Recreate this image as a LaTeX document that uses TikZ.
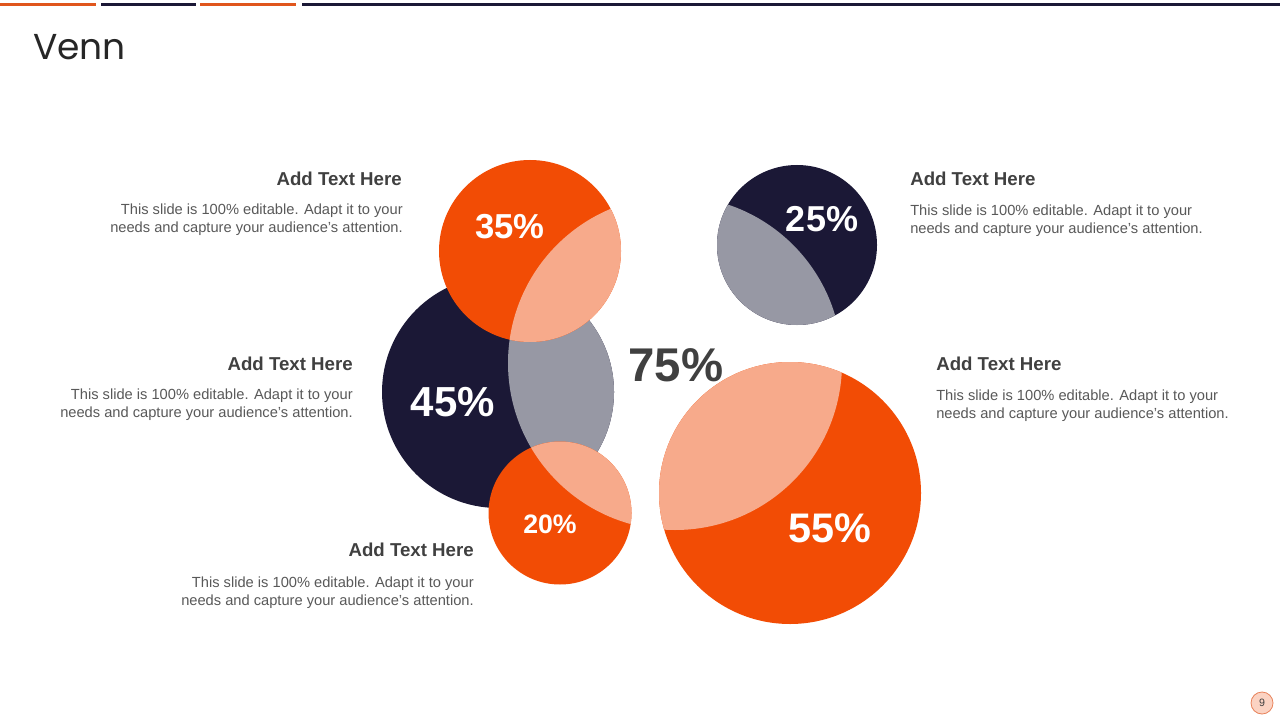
\documentclass[tikz,border=0pt]{standalone}
\usepackage{fontspec}
\setmainfont{Liberation Sans}
\newfontfamily\titlefont{Poppins}
\definecolor{vorange}{HTML}{F24C05}
\definecolor{vsalmon}{HTML}{F7AA8B}
\definecolor{vnavy}{HTML}{1B1836}
\definecolor{vgray}{HTML}{9798A4}
\definecolor{barorange}{HTML}{E0561D}
\definecolor{headgray}{HTML}{404040}
\definecolor{bodygray}{HTML}{595959}
\definecolor{pagefill}{HTML}{FBD3C3}
\definecolor{pageline}{HTML}{E8825A}
\tikzset{
  headtxt/.style={font=\bfseries\fontsize{14}{16}\selectfont, text=headgray, inner sep=0pt},
  bodytxt/.style={font=\fontsize{11}{13.5}\selectfont, text=bodygray, inner sep=0pt},
  pcttxt/.style={font=\bfseries\fontsize{#1}{#1}\selectfont, text=white, inner sep=0pt},
  bar/.style={fill=#1},
}
\newcommand{\bodytext}{This slide is 100\% editable. Adapt it to your\\needs and capture your audience's attention.}
\begin{document}
\begin{tikzpicture}[x=0.75pt,y=-0.75pt]
\useasboundingbox (0,0) rectangle (1280,720);
\fill[white] (0,0) rectangle (1280,720);
% top bars
\fill[bar=barorange] (0,3) rectangle (96,6);
\fill[bar=vnavy] (101,3) rectangle (196,6);
\fill[bar=barorange] (200,3) rectangle (296,6);
\fill[bar=vnavy] (302,3) rectangle (1280,6);
% title
\node[anchor=base west, inner sep=0pt, font=\titlefont\fontsize{27}{30}\selectfont, text=black!85] (title) at (33,60) {Venn};
% centres
\coordinate (cx) at (675,363);
\coordinate (c45) at (498,392);
\coordinate (c35) at (530,251);
\coordinate (c20) at (560,513);
\coordinate (c25) at (797,245);
\coordinate (c55) at (790,493);
% 45% circle
\fill[vnavy] (c45) circle[radius=116];
\begin{scope}\clip (c45) circle[radius=116]; \fill[vgray] (cx) circle[radius=167];\end{scope}
% 35% circle
\fill[vorange] (c35) circle[radius=91];
\begin{scope}\clip (c35) circle[radius=91]; \fill[vsalmon] (cx) circle[radius=167];\end{scope}
% 20% circle
\fill[vorange] (c20) circle[radius=71.5];
\begin{scope}\clip (c20) circle[radius=71.5]; \fill[vsalmon] (cx) circle[radius=167];\end{scope}
% 25% circle
\fill[vnavy] (c25) circle[radius=80];
\begin{scope}\clip (c25) circle[radius=80]; \fill[vgray] (cx) circle[radius=167];\end{scope}
% 55% circle
\fill[vorange] (c55) circle[radius=131];
\begin{scope}\clip (c55) circle[radius=131]; \fill[vsalmon] (cx) circle[radius=167];\end{scope}
% percentages
\node[pcttxt=26] (p35) at (510,227) {35\%};
\node[pcttxt=31.5] (p45) at (453,402) {45\%};
\node[pcttxt=20] (p20) at (550,524) {20\%};
\node[pcttxt=27] (p25) at (822,219) {25\%};
\node[pcttxt=31] (p55) at (830,528) {55\%};
\node[pcttxt=35.5, text=headgray] (p75) at (676,365) {75\%};
% text blocks
\node[headtxt, anchor=east] (h1) at (402,179) {Add Text Here};
\node[bodytxt, anchor=east, align=right] (b1) at (403,220) {\bodytext};
\node[headtxt, anchor=east] (h2) at (353,364) {Add Text Here};
\node[bodytxt, anchor=east, align=right] (b2) at (353,405) {\bodytext};
\node[headtxt, anchor=east] (h3) at (474,550) {Add Text Here};
\node[bodytxt, anchor=east, align=right] (b3) at (474,593) {\bodytext};
\node[headtxt, anchor=west] (h4) at (910,179) {Add Text Here};
\node[bodytxt, anchor=west, align=left] (b4) at (910,221) {\bodytext};
\node[headtxt, anchor=west] (h5) at (936,364) {Add Text Here};
\node[bodytxt, anchor=west, align=left] (b5) at (936,406) {\bodytext};
% page number
\node[circle, fill=pagefill, draw=pageline, line width=0.6pt, minimum size=16.5pt, inner sep=0pt, font=\fontsize{8}{8}\selectfont, text=headgray] (page) at (1262,703) {9};
\end{tikzpicture}
\end{document}
